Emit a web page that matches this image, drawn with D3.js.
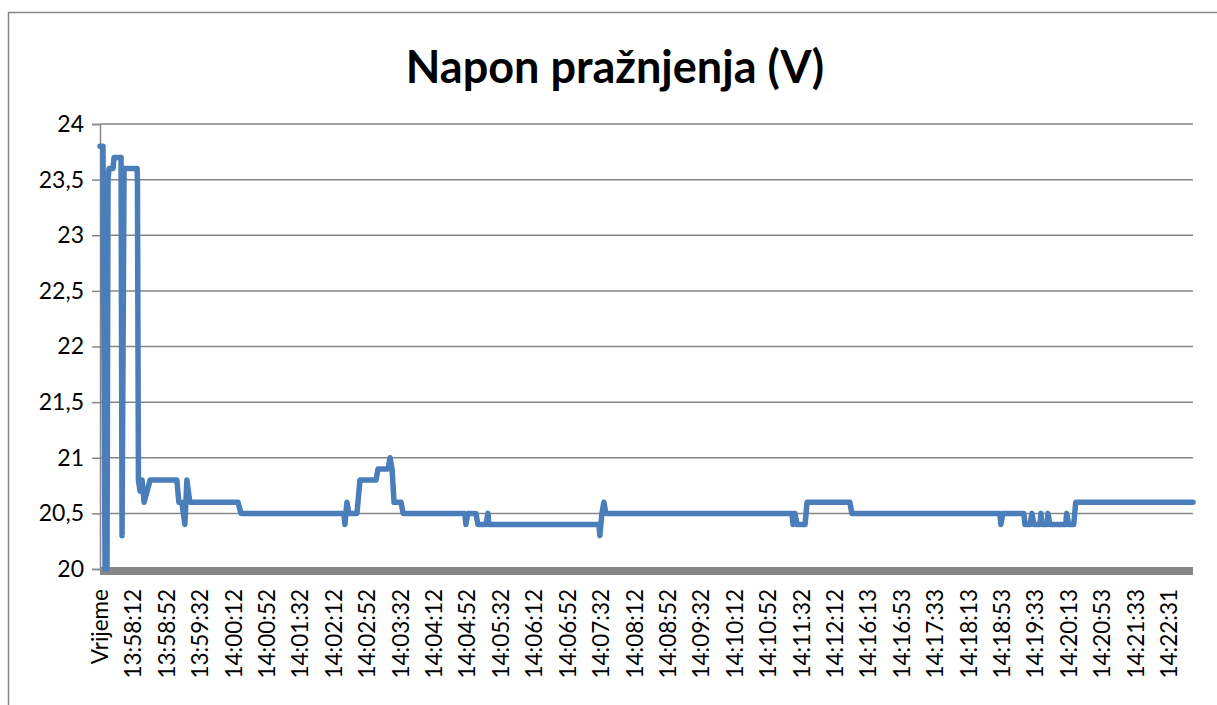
<!DOCTYPE html>
<html>
<head>
<meta charset="utf-8">
<script src="https://cdn.jsdelivr.net/npm/d3@7"></script>
<style>
  body { margin: 0; background: #fff; }
  text { font-family: Lato, "Liberation Sans", sans-serif; fill: #000; }
</style>
</head>
<body>
<div id="chart"></div>
<script>
// category labels shown on the x axis (one every label step)
var labels = ["Vrijeme", "13:58:12", "13:58:52", "13:59:32", "14:00:12", "14:00:52",
  "14:01:32", "14:02:12", "14:02:52", "14:03:32", "14:04:12", "14:04:52", "14:05:32",
  "14:06:12", "14:06:52", "14:07:32", "14:08:12", "14:08:52", "14:09:32", "14:10:12",
  "14:10:52", "14:11:32", "14:12:12", "14:16:13", "14:16:53", "14:17:33", "14:18:13",
  "14:18:53", "14:19:33", "14:20:13", "14:20:53", "14:21:33", "14:22:31"];

// y ticks
var yTicks = [20, 20.5, 21, 21.5, 22, 22.5, 23, 23.5, 24];

// series: position (in label steps) and voltage
var pos = [0.00, 0.09, 0.15, 0.21, 0.24, 0.27, 0.39, 0.42, 0.63, 0.66, 0.72, 1.11, 1.12,
  1.15, 1.20, 1.26, 1.32, 1.41, 1.50, 2.30, 2.36, 2.45, 2.54, 2.60, 2.69, 4.13, 4.22,
  7.30, 7.33, 7.39, 7.45, 7.69, 7.78, 8.26, 8.32, 8.62, 8.68, 8.74, 8.80, 9.01, 9.07,
  10.92, 10.95, 11.01, 11.25, 11.31, 11.55, 11.61, 11.64, 14.93, 14.96, 15.02, 15.08, 15.14,
  20.71, 20.74, 20.80, 20.86, 21.10, 21.16, 22.44, 22.50,
  26.93, 26.96, 27.02, 27.65, 27.68, 27.83, 27.89, 27.95, 28.13, 28.16, 28.19, 28.34,
  28.37, 28.43, 28.90, 28.93, 28.99, 29.14, 29.20, 32.71];
var volts = [23.8, 23.8, 20.0, 20.0, 23.5, 23.6, 23.6, 23.7, 23.7, 20.3, 23.6, 23.6, 23.5,
  20.8, 20.7, 20.8, 20.6, 20.7, 20.8, 20.8, 20.6, 20.6, 20.4, 20.8, 20.6, 20.6, 20.5,
  20.5, 20.4, 20.6, 20.5, 20.5, 20.8, 20.8, 20.9, 20.9, 21.0, 20.9, 20.6, 20.6, 20.5,
  20.5, 20.4, 20.5, 20.5, 20.4, 20.4, 20.5, 20.4, 20.4, 20.3, 20.5, 20.6, 20.5,
  20.5, 20.4, 20.5, 20.4, 20.4, 20.6, 20.6, 20.5,
  20.5, 20.4, 20.5, 20.5, 20.4, 20.4, 20.5, 20.4, 20.4, 20.5, 20.4, 20.4,
  20.5, 20.4, 20.4, 20.5, 20.4, 20.4, 20.6, 20.6];

var data = pos.map(function(p, i) { return {t: p, v: volts[i]}; });

var W = 1217, H = 705;
var margin = {top: 124, right: 24, bottom: 136, left: 100},
    width = W - margin.left - margin.right,
    height = H - margin.top - margin.bottom;

var svg = d3.select("#chart").append("svg")
    .attr("width", W)
    .attr("height", H);

// chart frame
svg.append("rect")
    .attr("x", 8.5).attr("y", 12.5)
    .attr("width", W).attr("height", H)
    .attr("fill", "none")
    .attr("stroke", "#868686")
    .attr("stroke-width", 1.5);

svg.append("text")
    .attr("x", 615)
    .attr("y", 83)
    .attr("text-anchor", "middle")
    .attr("font-size", "45px")
    .attr("font-weight", "bold")
    .text("Napon pražnjenja (V)");

var g = svg.append("g")
    .attr("transform", "translate(" + margin.left + "," + margin.top + ")");

var x = d3.scaleLinear().domain([0, 32.71]).range([0, width]);
var y = d3.scaleLinear().domain([20, 24]).range([height, 0]);

var fmt = function(d) { return String(d).replace(".", ","); };

// gridlines
g.append("g")
    .selectAll("line")
    .data(yTicks.slice(1))
    .enter().append("line")
    .attr("x1", 0).attr("x2", width)
    .attr("y1", function(d) { return y(d); })
    .attr("y2", function(d) { return y(d); })
    .attr("stroke", "#868686")
    .attr("stroke-width", 1.5);

// y axis
var yAxis = g.append("g")
    .call(d3.axisLeft(y).tickValues(yTicks).tickFormat(fmt).tickSize(8).tickPadding(8));
yAxis.select(".domain").attr("stroke", "#868686").attr("stroke-width", 1.5);
yAxis.selectAll(".tick line").attr("stroke", "#868686").attr("stroke-width", 1.5);
yAxis.selectAll("text").attr("font-size", "23px").attr("font-family", "Lato, sans-serif");

// x axis (thick bar) and labels
g.append("rect")
    .attr("x", 0).attr("y", height - 2)
    .attr("width", width).attr("height", 8)
    .attr("fill", "#868686");

g.append("g")
    .selectAll("text")
    .data(labels)
    .enter().append("text")
    .attr("transform", function(d, i) {
      return "translate(" + x(i) + "," + (height + 20) + ") rotate(-90)";
    })
    .attr("dy", "0.35em")
    .attr("text-anchor", "end")
    .attr("font-size", "22.5px")
    .text(function(d) { return d; });

// the series
var line = d3.line()
    .x(function(d) { return x(d.t); })
    .y(function(d) { return y(d.v); });

g.append("path")
    .datum(data)
    .attr("fill", "none")
    .attr("stroke", "#4A7EBB")
    .attr("stroke-width", 5.5)
    .attr("stroke-linejoin", "round")
    .attr("stroke-linecap", "round")
    .attr("d", line);
</script>
</body>
</html>
